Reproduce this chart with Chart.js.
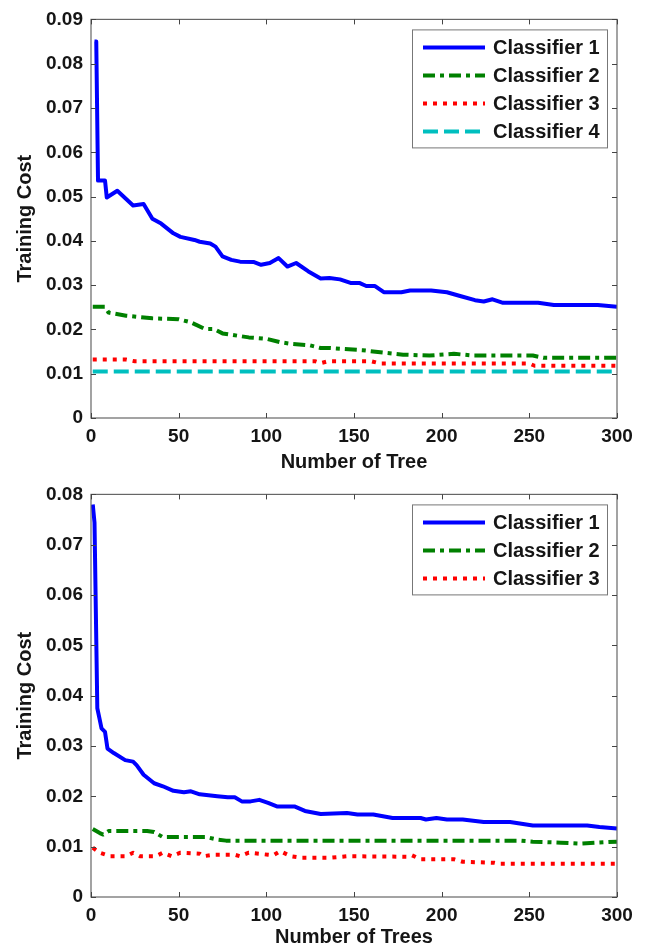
<!DOCTYPE html>
<html>
<head>
<meta charset="utf-8">
<script src="https://cdn.jsdelivr.net/npm/chart.js@4/dist/chart.umd.min.js"></script>
<style>
  html, body { margin: 0; padding: 0; background: #fff; }
  #wrap { position: relative; width: 647px; height: 950px; overflow: hidden; }
  canvas { position: absolute; left: 0; }
</style>
</head>
<body>
<div id="wrap">
  <canvas id="chartTop" width="647" height="475" style="top:0"></canvas>
  <canvas id="chartBottom" width="647" height="475" style="top:475px"></canvas>
</div>
<script>
// datos (x = numero de arboles, y = coste)
const legendTop = ['Classifier 1', 'Classifier 2', 'Classifier 3', 'Classifier 4'];
const legendBottom = ['Classifier 1', 'Classifier 2', 'Classifier 3'];

const xTicks = [0, 50, 100, 150, 200, 250, 300];
const yTicksTop = [0, 0.01, 0.02, 0.03, 0.04, 0.05, 0.06, 0.07, 0.08, 0.09];
const yTicksBottom = [0, 0.01, 0.02, 0.03, 0.04, 0.05, 0.06, 0.07, 0.08];

// grafico superior
const top1X = [2,3,4,8,9,15,24,30,35,40,47,51,59,62,68,71,75,80,85,93,97,102,107,112,117,124,131,136,142,148,153,157,162,167,177,182,194,203,211,219,224,229,235,255,264,289,300];
const top1Y = [0.085,0.085,0.0536,0.0536,0.0498,0.0513,0.048,0.0483,0.045,0.0439,0.0417,0.0409,0.0402,0.0398,0.0394,0.0387,0.0365,0.0357,0.0353,0.0352,0.0346,0.035,0.0361,0.0342,0.035,0.0331,0.0315,0.0316,0.0313,0.0305,0.0305,0.0298,0.0298,0.0284,0.0284,0.0288,0.0288,0.0284,0.0275,0.0266,0.0263,0.0268,0.026,0.026,0.0255,0.0255,0.0251];
const top2X = [1,8,10,20,35,50,57,65,70,75,90,100,108,115,125,131,136,155,168,178,193,207,218,252,258,300];
const top2Y = [0.0251,0.0251,0.0238,0.0231,0.0225,0.0223,0.0216,0.0201,0.0201,0.0191,0.0182,0.0179,0.0171,0.0167,0.0164,0.0158,0.0158,0.0153,0.0147,0.0143,0.0141,0.0145,0.0141,0.0141,0.0136,0.0136];
const top3X = [1,20,25,128,131,135,160,165,250,253,300];
const top3Y = [0.0132,0.0132,0.0128,0.0128,0.0124,0.0128,0.0128,0.0123,0.0123,0.0118,0.0118];
const top4X = [1,300];
const top4Y = [0.0105,0.0105];

// grafico inferior
const bot1X = [1,2,3,3.6,5,6,8,9.4,13,19.5,24,26,30,36,41,47,53,57,62,72,78,82,86,91,96,101,106,116,122,131,146,152,161,172,188,191,197,203,212,224,239,252,283,290,300];
const bot1Y = [0.078,0.0744,0.0513,0.0375,0.0352,0.0335,0.0328,0.0295,0.0286,0.0272,0.0269,0.0262,0.0243,0.0226,0.022,0.0211,0.0208,0.021,0.0204,0.02,0.0198,0.0198,0.019,0.019,0.0193,0.0187,0.018,0.018,0.0171,0.0165,0.0167,0.0164,0.0164,0.0157,0.0157,0.0154,0.0157,0.0154,0.0154,0.0149,0.0149,0.0142,0.0142,0.0139,0.0136];
const bot2X = [1,5,7,10,32,36,41,66,72,77,245,252,268,279,289,300];
const bot2Y = [0.0135,0.0127,0.0124,0.0131,0.0131,0.0129,0.0119,0.0119,0.0114,0.0112,0.0112,0.011,0.0108,0.0106,0.0108,0.011];
const bot3X = [1,5,11,20,24,28,37,41,46,51,62,64,70,82,85,90,101,104,108,114,120,136,146,180,183,188,207,212,230,233,300];
const bot3Y = [0.0098,0.0088,0.0081,0.0081,0.0088,0.0081,0.0081,0.0088,0.0081,0.0088,0.0086,0.0081,0.0084,0.0084,0.0081,0.0088,0.0084,0.0083,0.0091,0.0081,0.0078,0.0078,0.0081,0.008,0.0083,0.0075,0.0075,0.007,0.0068,0.0066,0.0066];

const FONT = "'Liberation Sans', Arial, sans-serif";
const TEXT = '#151515';

const STYLES = [
    { color: '#0000ff', dash: [] },
    { color: '#008000', dash: [12, 5, 4, 5] },
    { color: '#ff0000', dash: [4, 6] },
    { color: '#00bfbf', dash: [15, 6] }
];

function pts(xs, ys) {
    return xs.map((x, i) => ({ x: x, y: ys[i] }));
}

function makeDataset(label, xs, ys, idx) {
    return {
        label: label,
        data: pts(xs, ys),
        borderColor: STYLES[idx].color,
        backgroundColor: STYLES[idx].color,
        borderDash: STYLES[idx].dash,
        borderWidth: 4,
        borderCapStyle: 'butt',
        borderJoinStyle: 'round',
        pointRadius: 0,
        tension: 0,
        fill: false
    };
}

// marco, ticks hacia dentro y leyenda estilo MATLAB
const matlabBox = {
    id: 'matlabBox',
    afterDatasetsDraw(chart) {
        const { ctx, chartArea: a, scales } = chart;
        ctx.save();
        ctx.setLineDash([]);
        ctx.strokeStyle = '#666';
        ctx.lineWidth = 1.2;
        ctx.strokeRect(a.left, a.top, a.right - a.left, a.bottom - a.top);

        ctx.strokeStyle = '#444';
        ctx.lineWidth = 1;
        ctx.beginPath();
        scales.x.ticks.forEach(t => {
            const px = Math.round(scales.x.getPixelForValue(t.value)) + 0.5;
            ctx.moveTo(px, a.bottom); ctx.lineTo(px, a.bottom - 5);
            ctx.moveTo(px, a.top); ctx.lineTo(px, a.top + 5);
        });
        scales.y.ticks.forEach(t => {
            const py = Math.round(scales.y.getPixelForValue(t.value)) + 0.5;
            ctx.moveTo(a.left, py); ctx.lineTo(a.left + 5, py);
            ctx.moveTo(a.right, py); ctx.lineTo(a.right - 5, py);
        });
        ctx.stroke();

        // leyenda
        const ds = chart.data.datasets;
        const bx = a.right - 205, by = a.top + 10, bw = 195;
        const bh = 18 + 28 * (ds.length - 1) + 16;
        ctx.fillStyle = '#fff';
        ctx.fillRect(bx, by, bw, bh);
        ctx.strokeStyle = '#777';
        ctx.lineWidth = 1;
        ctx.strokeRect(bx + 0.5, by + 0.5, bw, bh);
        ctx.font = 'bold 20px ' + FONT;
        ctx.textBaseline = 'middle';
        ctx.textAlign = 'left';
        ds.forEach((d, i) => {
            const y = by + 18 + 28 * i;
            ctx.beginPath();
            ctx.setLineDash(d.borderDash);
            ctx.lineCap = 'butt';
            ctx.strokeStyle = d.borderColor;
            ctx.lineWidth = d.borderWidth;
            ctx.moveTo(bx + 11, y);
            ctx.lineTo(bx + 73, y);
            ctx.stroke();
            ctx.setLineDash([]);
            ctx.fillStyle = TEXT;
            ctx.fillText(d.label, bx + 81, y + 1);
        });
        ctx.restore();
    }
};

function makeChart(canvasId, datasets, yMax, yTicks, xTitle, padTop, xHeight) {
    return new Chart(document.getElementById(canvasId), {
        type: 'line',
        data: { datasets: datasets },
        options: {
            responsive: false,
            animation: false,
            devicePixelRatio: 1,
            layout: { padding: { top: padTop, right: 30, left: 0, bottom: 0 } },
            plugins: { legend: { display: false }, tooltip: { enabled: false } },
            scales: {
                x: {
                    type: 'linear',
                    min: 0, max: 300,
                    afterBuildTicks: s => { s.ticks = xTicks.map(v => ({ value: v })); },
                    afterFit: s => { s.height = xHeight; },
                    grid: { display: false, drawTicks: false },
                    border: { display: false },
                    ticks: {
                        padding: 7,
                        color: TEXT,
                        font: { family: FONT, size: 19, weight: 'bold' },
                        maxRotation: 0,
                        callback: v => String(v)
                    },
                    title: {
                        display: true,
                        text: xTitle,
                        color: TEXT,
                        font: { family: FONT, size: 20, weight: 'bold' },
                        padding: { top: 0, bottom: 1 }
                    }
                },
                y: {
                    type: 'linear',
                    min: 0, max: yMax,
                    afterBuildTicks: s => { s.ticks = yTicks.map(v => ({ value: v })); },
                    afterFit: s => { s.width = 91; },
                    grid: { display: false, drawTicks: false },
                    border: { display: false },
                    ticks: {
                        padding: 8,
                        color: TEXT,
                        font: { family: FONT, size: 19, weight: 'bold' },
                        callback: v => v === 0 ? '0' : v.toFixed(2)
                    },
                    title: {
                        display: true,
                        text: 'Training Cost',
                        color: TEXT,
                        font: { family: FONT, size: 20, weight: 'bold' },
                        padding: { top: 13, bottom: 0 }
                    }
                }
            }
        },
        plugins: [matlabBox]
    });
}

const dsTop = [
    makeDataset(legendTop[0], top1X, top1Y, 0),
    makeDataset(legendTop[1], top2X, top2Y, 1),
    makeDataset(legendTop[2], top3X, top3Y, 2),
    makeDataset(legendTop[3], top4X, top4Y, 3)
];
const dsBottom = [
    makeDataset(legendBottom[0], bot1X, bot1Y, 0),
    makeDataset(legendBottom[1], bot2X, bot2Y, 1),
    makeDataset(legendBottom[2], bot3X, bot3Y, 2)
];

makeChart('chartTop', dsTop, 0.09, yTicksTop, 'Number of Tree', 15, 57);
makeChart('chartBottom', dsBottom, 0.08, yTicksBottom, 'Number of Trees', 17, 53);
</script>
</body>
</html>
